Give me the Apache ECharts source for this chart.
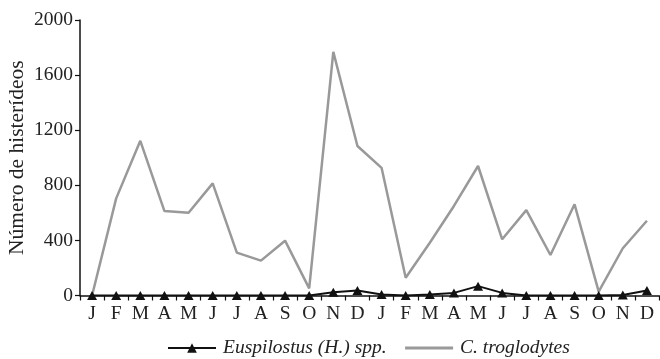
<!DOCTYPE html>
<html>
<head>
<meta charset="utf-8">
<script src="https://cdn.jsdelivr.net/npm/echarts@6/dist/echarts.min.js"></script>
<style>
  html, body { margin: 0; padding: 0; background: #fff; }
  #chart { width: 660px; height: 359px; }
</style>
</head>
<body>
<div id="chart"></div>
<script>
var months = ['J', 'F', 'M', 'A', 'M', 'J', 'J', 'A', 'S', 'O', 'N', 'D',
              'J', 'F', 'M', 'A', 'M', 'J', 'J', 'A', 'S', 'O', 'N', 'D'];
var euspilostus = [0, 0, 0, 0, 0, 0, 0, 0, 0, 0, 24, 36,
                   7, 0, 7, 19, 68, 19, 0, 0, 0, 0, 3, 36];
var troglodytes = [0, 705, 1123, 613, 601, 814, 311, 253, 398, 52, 1769, 1085,
                   927, 129, 383, 650, 940, 408, 620, 294, 662, 28, 343, 543];
var yTicks = { min: 0, max: 2000, interval: 400 };

var serif = '"Liberation Serif", "DejaVu Serif", serif';
var chart = echarts.init(document.getElementById('chart'));

var option = {
  animation: false,
  backgroundColor: '#fff',
  grid: { left: 80, right: 1, top: 20, bottom: 63.5, containLabel: false, outerBoundsMode: 'none' },
  legend: {
    top: 333,
    left: 162,
    itemGap: 17,
    itemWidth: 48,
    itemHeight: 12,
    textStyle: { fontFamily: serif, fontSize: 19.5, fontStyle: 'italic', color: '#222', padding: [0, 0, 0, 2] },
    data: [
      { name: 'Euspilostus (H.) spp.' },
      { name: 'C. troglodytes', itemStyle: { opacity: 0 }, lineStyle: { width: 3 } }
    ]
  },
  xAxis: {
    type: 'category',
    data: months,
    boundaryGap: true,
    axisLine: { lineStyle: { color: '#111', width: 1.5 } },
    axisTick: { show: true, interval: 0, length: 5, lineStyle: { color: '#111', width: 1.2 } },
    axisLabel: { interval: 0, margin: 8, fontFamily: serif, fontSize: 19.5, color: '#222' }
  },
  yAxis: {
    type: 'value',
    min: yTicks.min,
    max: yTicks.max,
    interval: yTicks.interval,
    name: 'Número de histerídeos',
    nameLocation: 'middle',
    nameGap: 52,
    nameMoveOverlap: false,
    nameTextStyle: { fontFamily: serif, fontSize: 21.5, color: '#222' },
    splitLine: { show: false },
    axisLine: { show: true, lineStyle: { color: '#111', width: 1.5 } },
    axisTick: { show: true, length: 5, lineStyle: { color: '#111', width: 1.2 } },
    axisLabel: {
      margin: 7, fontFamily: serif, fontSize: 19.5, color: '#222',
      formatter: function (v) { return String(v); }
    }
  },
  series: [
    {
      name: 'Euspilostus (H.) spp.',
      type: 'line',
      data: euspilostus,
      z: 3,
      symbol: 'triangle',
      symbolSize: [10, 9],
      showAllSymbol: true,
      color: '#111',
      lineStyle: { color: '#111', width: 2 },
      itemStyle: { color: '#111' }
    },
    {
      name: 'C. troglodytes',
      type: 'line',
      data: troglodytes,
      z: 2,
      symbol: 'none',
      color: '#999',
      lineStyle: { color: '#999', width: 2.5 }
    }
  ]
};
chart.setOption(option);
</script>
</body>
</html>
